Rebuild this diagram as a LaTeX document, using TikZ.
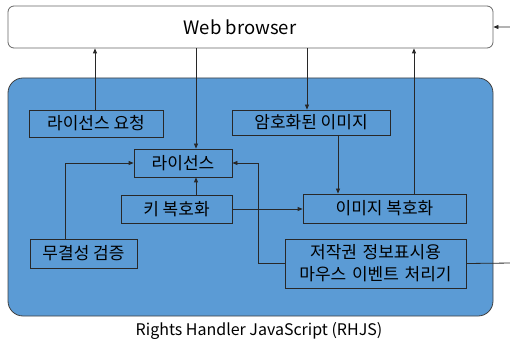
\documentclass[tikz,border=0pt]{standalone}
\usepackage{fontspec}
\setmainfont{Noto Sans CJK KR}
\usetikzlibrary{arrows.meta}
\definecolor{rhjsblue}{RGB}{91,155,213}
\definecolor{edge}{RGB}{40,40,40}
\begin{document}
\begin{tikzpicture}[x=1pt,y=-1pt,
  line width=0.8pt,
  conn/.style={draw=edge,-{Triangle[length=5pt,width=4pt]}},
  fnbox/.style={draw=edge,rectangle,inner sep=0pt,font=\fontsize{17}{19}\selectfont,align=center},
]
\useasboundingbox (0,0) rectangle (510,344);

% outer frames
\node[draw=black!60,fill=white,rounded corners=6pt,minimum width=485pt,minimum height=42pt,inner sep=0pt] (browser) at (250.5,27) {};
\node[font=\fontsize{18.5}{20}\selectfont] (browserlabel) at (240,27) {Web browser};
\node[draw=black!75,fill=rhjsblue,rounded corners=15pt,minimum width=485pt,minimum height=238pt,inner sep=0pt] (rhjs) at (250.5,197) {};
\node[font=\fontsize{16}{18}\selectfont] (rhjslabel) at (259,331) {Rights Handler JavaScript (RHJS)};

% functional blocks
\node[fnbox,minimum width=134pt,minimum height=27pt] (lreq) at (96,123.5) {라이선스 요청};
\node[fnbox,minimum width=98pt,minimum height=28pt] (lic) at (183,163) {라이선스};
\node[fnbox,minimum width=111pt,minimum height=28pt] (keydec) at (176.5,209) {키 복호화};
\node[fnbox,minimum width=158pt,minimum height=25pt] (encimg) at (311,122.5) {암호화된 이미지};
\node[fnbox,minimum width=163pt,minimum height=29pt] (imgdec) at (384.5,208.5) {이미지 복호화};
\node[fnbox,minimum width=107pt,minimum height=29pt] (integ) at (83.5,253.5) {무결성 검증};
\node[fnbox,minimum width=181pt,minimum height=49pt,text width=175pt,
      font=\fontsize{17}{22}\selectfont] (copy) at (375.5,263.5) {저작권 정보표시용\\마우스 이벤트 처리기};

% routing columns and joints
\coordinate (xlic) at (196,0);
\coordinate (xenc) at (307,0);
\coordinate (xdec) at (414,0);
\coordinate (xint) at (65,0);
\coordinate (xenc2) at (338,0);
\coordinate (joint) at (258,163);
\coordinate (outr) at (513,263);

% connectors
\draw[conn] (lreq.north -| 95,0) -- (browser.south -| 95,0);
\draw[conn] (browser.south -| xlic) -- (lic.north -| xlic);
\draw[conn] (browser.south -| xenc) -- (encimg.north -| xenc);
\draw[conn] (imgdec.north -| xdec) -- (browser.south -| xdec);
\draw[conn] (keydec.north -| xlic) -- (lic.south -| xlic);
\draw[conn] (integ.north -| xint) |- (lic.west);
\draw[conn] (keydec.east) -- (keydec.east -| imgdec.west);
\draw[conn] (copy.west) -| (joint) -- (lic.east);
\draw[conn] (encimg.south -| xenc2) -- (imgdec.north -| xenc2);
\draw[conn] (copy.east) -- (outr) |- (browser.east);
\end{tikzpicture}
\end{document}
